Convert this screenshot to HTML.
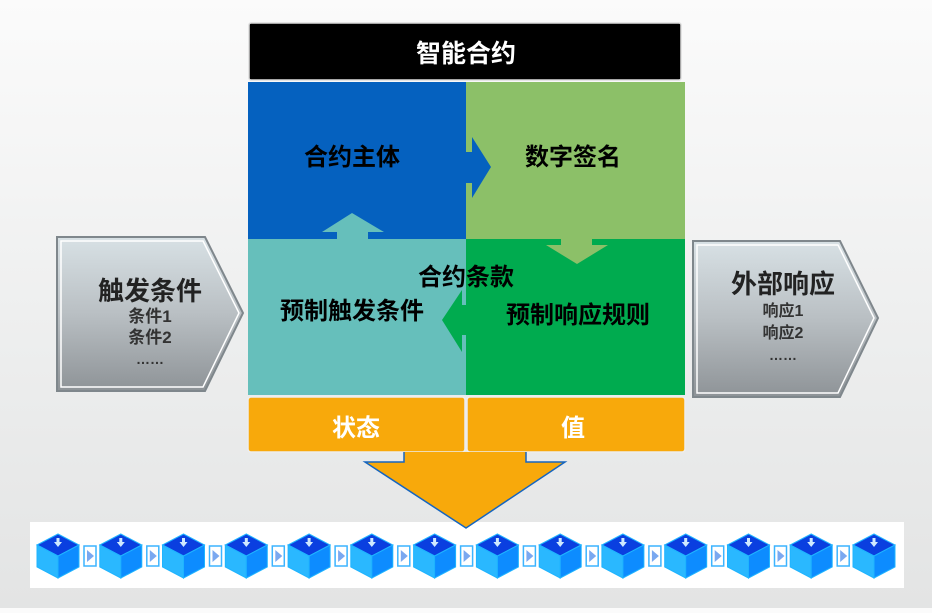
<!DOCTYPE html>
<html><head><meta charset="utf-8"><style>
html,body{margin:0;padding:0;}
body{width:932px;height:608px;overflow:hidden;background:linear-gradient(180deg,#fbfbfb 0%,#eceded 60%,#e3e4e4 100%);font-family:"Liberation Sans","Noto Sans CJK SC",sans-serif;}
svg text{font-family:"Liberation Sans","Noto Sans CJK SC",sans-serif;font-weight:bold;}
</style></head><body>
<svg width="932" height="608" viewBox="0 0 932 608" xmlns="http://www.w3.org/2000/svg">
<defs>
<linearGradient id="g" x1="0" y1="0" x2="0" y2="1"><stop offset="0" stop-color="#d8e1e5"/><stop offset="0.5" stop-color="#b9bfc3"/><stop offset="1" stop-color="#8e9397"/></linearGradient>
<g id="cube">
<polygon points="0,11 21,0 42,11 21,22" fill="#0a3fe0" stroke="#1fb4ff" stroke-width="1"/>
<polygon points="0,11 21,22 21,44 0,33" fill="#2ab8ff" stroke="#1fb4ff" stroke-width="1"/>
<polygon points="42,11 21,22 21,44 42,33" fill="#0d8cff" stroke="#1fb4ff" stroke-width="1"/>
<rect x="19.5" y="4" width="3" height="5" fill="#cfe9ff"/>
<polygon points="17,8 25,8 21,13" fill="#cfe9ff"/>
</g>
<g id="arr">
<rect x="0" y="0" width="12" height="20" fill="#fff" stroke="#3cb4ff" stroke-width="1.5"/>
<polygon points="3,4 10,10 3,16" fill="#7aa8f0"/>
</g>
</defs>
<!-- header -->
<rect x="249" y="23" width="432" height="57" fill="#000" stroke="#ddd" stroke-width="1.5" rx="2"/>
<text x="466" y="62" font-size="25" fill="#fff" text-anchor="middle">智能合约</text>
<!-- quadrants -->
<rect x="248" y="82" width="218" height="157" fill="#0561bf"/>
<rect x="466" y="82" width="219" height="157" fill="#8cc068"/>
<rect x="248" y="239" width="218" height="156" fill="#66bfbb"/>
<rect x="466" y="239" width="219" height="156" fill="#00ab4f"/>
<!-- arrows -->
<polygon points="466,152 472,152 472,137 491,167 472,198 472,183 466,183" fill="#0561bf"/>
<polygon points="337,239 337,232 322,232 352,213 384,232 368,232 368,239" fill="#66bfbb"/>
<polygon points="561,239 592,239 592,245 608,245 577,264 546,245 561,245" fill="#8cc068"/>
<polygon points="466,305 462,305 462,290 442,320 462,352 462,335 466,335" fill="#00ab4f"/>
<text x="352" y="165" font-size="24" fill="#000" text-anchor="middle">合约主体</text>
<text x="573" y="165" font-size="24" fill="#000" text-anchor="middle">数字签名</text>
<text x="466" y="285" font-size="24" fill="#000" text-anchor="middle">合约条款</text>
<text x="352" y="319" font-size="24" fill="#000" text-anchor="middle">预制触发条件</text>
<text x="578" y="323" font-size="24" fill="#000" text-anchor="middle">预制响应规则</text>
<!-- orange boxes -->
<rect x="248" y="397" width="217" height="55" rx="3" fill="#f8a90b" stroke="#eee" stroke-width="1.5"/>
<rect x="467" y="397" width="218" height="55" rx="3" fill="#f8a90b" stroke="#eee" stroke-width="1.5"/>
<text x="356" y="436" font-size="24" fill="#fff" text-anchor="middle">状态</text>
<text x="573" y="436" font-size="24" fill="#fff" text-anchor="middle">值</text>
<!-- pentagons -->
<polygon points="57,237 205,237 243,313 205,391 57,391" fill="url(#g)" stroke="#7f878c" stroke-width="2"/>
<polygon points="61,241 203,241 239,313 203,387 61,387" fill="none" stroke="#fff" stroke-width="1.5"/>
<text x="150" y="300" font-size="26" fill="#222" text-anchor="middle">触发条件</text>
<text x="150" y="322" font-size="17" fill="#333" text-anchor="middle">条件1</text>
<text x="150" y="343" font-size="17" fill="#333" text-anchor="middle">条件2</text>
<text x="150" y="364" font-size="14" fill="#333" text-anchor="middle">……</text>
<polygon points="693,241 840,241 878,318 840,397 693,397" fill="url(#g)" stroke="#7f878c" stroke-width="2"/>
<polygon points="697,245 838,245 874,318 838,393 697,393" fill="none" stroke="#fff" stroke-width="1.5"/>
<text x="783" y="293" font-size="26" fill="#222" text-anchor="middle">外部响应</text>
<text x="783" y="316" font-size="16" fill="#333" text-anchor="middle">响应1</text>
<text x="783" y="338" font-size="16" fill="#333" text-anchor="middle">响应2</text>
<text x="783" y="360" font-size="14" fill="#333" text-anchor="middle">……</text>
<!-- chain strip -->
<rect x="30" y="522" width="874" height="66" fill="#fff"/>
<use href="#cube" x="37" y="534"/><use href="#arr" x="84" y="546"/>
<use href="#cube" x="99.8" y="534"/><use href="#arr" x="146.8" y="546"/>
<use href="#cube" x="162.5" y="534"/><use href="#arr" x="209.5" y="546"/>
<use href="#cube" x="225.3" y="534"/><use href="#arr" x="272.3" y="546"/>
<use href="#cube" x="288.1" y="534"/><use href="#arr" x="335.1" y="546"/>
<use href="#cube" x="350.8" y="534"/><use href="#arr" x="397.8" y="546"/>
<use href="#cube" x="413.6" y="534"/><use href="#arr" x="460.6" y="546"/>
<use href="#cube" x="476.4" y="534"/><use href="#arr" x="523.4" y="546"/>
<use href="#cube" x="539.2" y="534"/><use href="#arr" x="586.2" y="546"/>
<use href="#cube" x="601.9" y="534"/><use href="#arr" x="648.9" y="546"/>
<use href="#cube" x="664.7" y="534"/><use href="#arr" x="711.7" y="546"/>
<use href="#cube" x="727.5" y="534"/><use href="#arr" x="774.5" y="546"/>
<use href="#cube" x="790.2" y="534"/><use href="#arr" x="837.2" y="546"/>
<use href="#cube" x="853" y="534"/>
<!-- big arrow -->
<polygon points="404,452 404,462 365,462 466,528 565,462 526,462 526,452" fill="#f8a90b"/>
<polyline points="404,452 404,462 365,462 466,528 565,462 526,462 526,452" fill="none" stroke="#1565c0" stroke-width="1.5"/>
</svg>
</body></html>
